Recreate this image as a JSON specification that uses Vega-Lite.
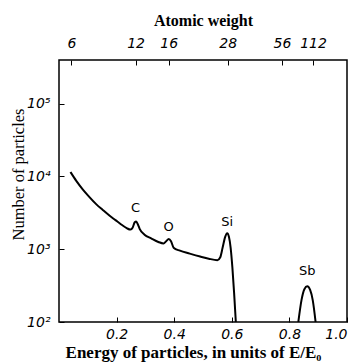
{
  "$schema": "https://vega.github.io/schema/vega-lite/v6.json",
  "width": 288,
  "height": 262,
  "autosize": {"type": "none"},
  "padding": {"left": 59, "top": 60, "right": 10, "bottom": 42},
  "background": "white",
  "config": {
    "view": {"stroke": "black", "strokeWidth": 1.5},
    "axis": {
      "domain": false,
      "grid": false,
      "tickColor": "black",
      "tickSize": -5,
      "tickWidth": 1,
      "labelFont": "DejaVu Sans",
      "labelFontStyle": "italic",
      "labelFontSize": 14,
      "labelColor": "black",
      "titleFont": "Liberation Serif",
      "titleFontSize": 16,
      "titleFontWeight": "bold",
      "titleColor": "black"
    }
  },
  "datasets": {
    "curve": [
      {"seg": "a", "e": 0.040, "lg": 4.06},
      {"seg": "a", "e": 0.060, "lg": 3.94},
      {"seg": "a", "e": 0.083, "lg": 3.82},
      {"seg": "a", "e": 0.105, "lg": 3.72},
      {"seg": "a", "e": 0.129, "lg": 3.62},
      {"seg": "a", "e": 0.152, "lg": 3.54},
      {"seg": "a", "e": 0.176, "lg": 3.46},
      {"seg": "a", "e": 0.196, "lg": 3.40},
      {"seg": "a", "e": 0.216, "lg": 3.34},
      {"seg": "a", "e": 0.235, "lg": 3.29},
      {"seg": "a", "e": 0.248, "lg": 3.27},
      {"seg": "a", "e": 0.256, "lg": 3.30},
      {"seg": "a", "e": 0.263, "lg": 3.37},
      {"seg": "a", "e": 0.268, "lg": 3.38},
      {"seg": "a", "e": 0.274, "lg": 3.34},
      {"seg": "a", "e": 0.280, "lg": 3.28},
      {"seg": "a", "e": 0.297, "lg": 3.20},
      {"seg": "a", "e": 0.320, "lg": 3.15},
      {"seg": "a", "e": 0.345, "lg": 3.10},
      {"seg": "a", "e": 0.363, "lg": 3.08},
      {"seg": "a", "e": 0.372, "lg": 3.11},
      {"seg": "a", "e": 0.381, "lg": 3.14},
      {"seg": "a", "e": 0.389, "lg": 3.11},
      {"seg": "a", "e": 0.398, "lg": 3.02},
      {"seg": "a", "e": 0.420, "lg": 2.98},
      {"seg": "a", "e": 0.454, "lg": 2.94},
      {"seg": "a", "e": 0.490, "lg": 2.90},
      {"seg": "a", "e": 0.520, "lg": 2.87},
      {"seg": "a", "e": 0.550, "lg": 2.85},
      {"seg": "a", "e": 0.560, "lg": 2.89},
      {"seg": "a", "e": 0.568, "lg": 3.02},
      {"seg": "a", "e": 0.577, "lg": 3.17},
      {"seg": "a", "e": 0.584, "lg": 3.22},
      {"seg": "a", "e": 0.590, "lg": 3.17},
      {"seg": "a", "e": 0.596, "lg": 3.02},
      {"seg": "a", "e": 0.602, "lg": 2.75},
      {"seg": "a", "e": 0.608, "lg": 2.40},
      {"seg": "a", "e": 0.614, "lg": 2.00},
      {"seg": "b", "e": 0.831, "lg": 2.00},
      {"seg": "b", "e": 0.842, "lg": 2.30},
      {"seg": "b", "e": 0.852, "lg": 2.45},
      {"seg": "b", "e": 0.862, "lg": 2.49},
      {"seg": "b", "e": 0.872, "lg": 2.44},
      {"seg": "b", "e": 0.881, "lg": 2.30},
      {"seg": "b", "e": 0.891, "lg": 2.00}
    ],
    "labels": [
      {"name": "C", "e": 0.266, "lg": 3.56},
      {"name": "O", "e": 0.381, "lg": 3.31},
      {"name": "Si", "e": 0.584, "lg": 3.38},
      {"name": "Sb", "e": 0.862, "lg": 2.70}
    ]
  },
  "layer": [
    {
      "data": {"name": "curve"},
      "transform": [{"calculate": "pow(10, datum.lg)", "as": "n"}],
      "mark": {"type": "line", "color": "black", "strokeWidth": 2, "interpolate": "monotone", "clip": true},
      "encoding": {
        "detail": {"field": "seg"},
        "x": {
          "field": "e", "type": "quantitative",
          "scale": {"domain": [0, 1], "nice": false, "zero": false},
          "axis": {
            "orient": "bottom",
            "values": [0.2, 0.4, 0.6, 0.8, 1.0],
            "format": ".1f",
            "labelPadding": 10,
            "title": "Energy of particles, in units of E/E₀",
            "titleFontSize": 17,
            "titleX": 134,
            "titlePadding": 3
          }
        },
        "y": {
          "field": "n", "type": "quantitative",
          "scale": {"type": "log", "domain": [100, 398107], "nice": false},
          "axis": {
            "values": [100, 1000, 10000, 100000],
            "labelExpr": "datum.value == 100 ? '10²' : datum.value == 1000 ? '10³' : datum.value == 10000 ? '10⁴' : '10⁵'",
            "labelPadding": 14,
            "title": "Number of particles",
            "titleFontWeight": "normal",
            "titleFontSize": 16.5,
            "titleY": 114,
            "titlePadding": 0
          }
        }
      }
    },
    {
      "data": {"name": "labels"},
      "transform": [{"calculate": "pow(10, datum.lg)", "as": "n"}],
      "mark": {"type": "text", "font": "DejaVu Sans", "fontSize": 13, "color": "black", "baseline": "middle", "align": "center"},
      "encoding": {
        "x": {
          "field": "e", "type": "quantitative",
          "axis": {
            "orient": "top",
            "values": [0.043, 0.266, 0.381, 0.586, 0.774, 0.882],
            "labelExpr": "datum.value < 0.1 ? '6' : datum.value < 0.3 ? '12' : datum.value < 0.5 ? '16' : datum.value < 0.7 ? '28' : datum.value < 0.8 ? '56' : '112'",
            "labelPadding": 15,
            "title": "Atomic weight",
            "titlePadding": 8
          }
        },
        "y": {"field": "n", "type": "quantitative"},
        "text": {"field": "name"}
      }
    }
  ],
  "resolve": {"axis": {"x": "independent"}}
}
